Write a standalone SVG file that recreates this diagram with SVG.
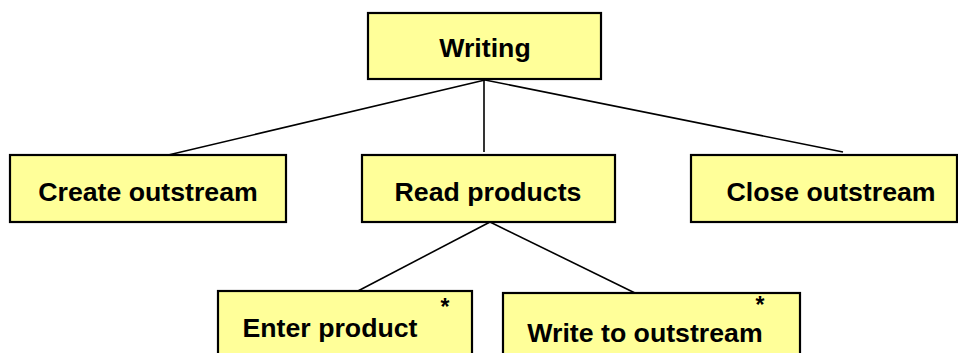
<svg xmlns="http://www.w3.org/2000/svg" width="958" height="353" viewBox="0 0 958 353">
<style>
.box{fill:#FFFF99;stroke:#000;stroke-width:2.2}
.lbl{font-family:"Liberation Sans",Arial,sans-serif;font-weight:bold;font-size:26.7px;fill:#000;text-anchor:middle}
.ast{font-family:"Liberation Sans",Arial,sans-serif;font-weight:bold;font-size:23px;fill:#000;text-anchor:middle}
.edge{stroke:#000;stroke-width:1.6;fill:none}
</style>
<rect width="958" height="353" fill="#fff"/>
<g id="connectors">
<line class="edge" x1="485" y1="80" x2="164" y2="156"/>
<line class="edge" x1="484" y1="80" x2="484" y2="152"/>
<line class="edge" x1="485" y1="80" x2="843" y2="152"/>
<line class="edge" x1="490" y1="222" x2="356" y2="292"/>
<line class="edge" x1="490" y1="222" x2="635" y2="293"/>
</g>
<g id="writing">
<rect class="box" x="368" y="13" width="233" height="66"/>
<text class="lbl" x="485" y="57">Writing</text>
</g>
<g id="create-outstream">
<rect class="box" x="10" y="155" width="276" height="67"/>
<text class="lbl" x="148" y="201">Create outstream</text>
</g>
<g id="read-products">
<rect class="box" x="362" y="155" width="253" height="67"/>
<text class="lbl" x="488" y="201">Read products</text>
</g>
<g id="close-outstream">
<rect class="box" x="691" y="155" width="266" height="67"/>
<text class="lbl" x="831" y="201">Close outstream</text>
</g>
<g id="enter-product">
<rect class="box" x="218" y="291" width="254" height="75"/>
<text class="lbl" x="330" y="337">Enter product</text>
<text class="ast" x="445" y="315">*</text>
</g>
<g id="write-to-outstream">
<rect class="box" x="503" y="293" width="297" height="75"/>
<text class="lbl" x="645" y="342">Write to outstream</text>
<text class="ast" x="760" y="313">*</text>
</g>
</svg>
